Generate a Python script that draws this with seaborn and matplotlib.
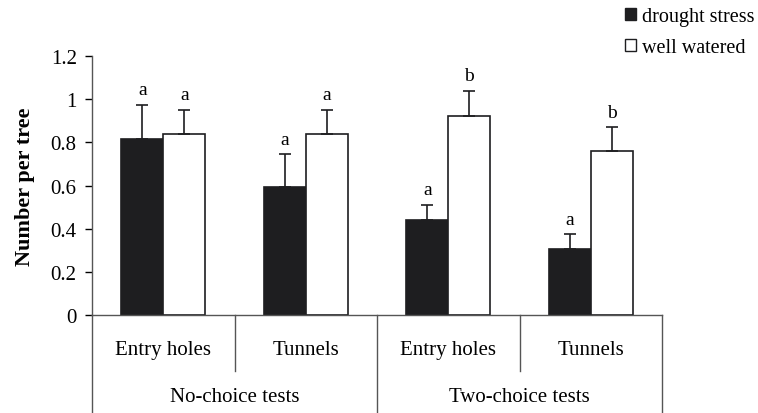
import pandas as pd
import seaborn as sns
import matplotlib.pyplot as plt
from matplotlib.patches import Patch
import matplotlib.transforms as mtransforms

# values
measures = ['Entry holes', 'Tunnels', 'Entry holes', 'Tunnels']
tests = ['No-choice tests', 'Two-choice tests']
drought = [0.815, 0.595, 0.44, 0.305]
drought_err = [0.16, 0.15, 0.07, 0.07]
watered = [0.84, 0.84, 0.92, 0.76]
watered_err = [0.11, 0.11, 0.12, 0.11]
drought_sig = ['a', 'a', 'a', 'a']
watered_sig = ['a', 'a', 'b', 'b']

plt.rcParams['font.family'] = ['Liberation Serif', 'DejaVu Serif']

cats = ['c%d' % i for i in range(4)]
df = pd.DataFrame({
    'cat': cats * 2,
    'treatment': ['drought stress'] * 4 + ['well watered'] * 4,
    'value': drought + watered,
    'err': drought_err + watered_err,
    'sig': drought_sig + watered_sig,
})

fig = plt.figure(figsize=(7.58, 4.14), dpi=100)
ax = fig.add_axes([0.1214, 0.2367, 0.752, 0.6256])

sns.barplot(data=df, x='cat', y='value', hue='treatment', order=cats,
            hue_order=['drought stress', 'well watered'],
            palette=['#1e1e20', 'white'], edgecolor='#1e1e20', linewidth=1.2,
            width=0.59, errorbar=None, legend=False, ax=ax)

# error bars (upper only) and significance letters
for container, (_, sub) in zip(ax.containers, df.groupby('treatment', sort=True)):
    for bar, (_, row) in zip(container, sub.iterrows()):
        xc = bar.get_x() + bar.get_width() / 2
        ax.errorbar(xc, row['value'], yerr=[[0], [row['err']]], fmt='none',
                    ecolor='#1e1e20', elinewidth=1.2, capsize=4, capthick=1.2)
        ax.text(xc, row['value'] + row['err'] + 0.03, row['sig'],
                ha='center', va='bottom', fontsize=14)

ax.set_xlim(-0.5, 3.5)
ax.set_ylim(0, 1.2)
ax.set_yticks([0, 0.2, 0.4, 0.6, 0.8, 1.0, 1.2])
ax.set_yticklabels(['0', '0.2', '0.4', '0.6', '0.8', '1', '1.2'], fontsize=15)
ax.tick_params(axis='y', direction='out', length=5, width=1, pad=6)
ax.set_xticks([])
ax.set_xlabel('')
ax.set_ylabel('Number per tree', fontsize=16, fontweight='bold')
ax.yaxis.set_label_coords(-0.1, 0.5)
for s in ['top', 'right']:
    ax.spines[s].set_visible(False)
for s in ['left', 'bottom']:
    ax.spines[s].set_color('#555555')
    ax.spines[s].set_linewidth(1)

# category table below the axis
trans = mtransforms.blended_transform_factory(ax.transData, ax.transAxes)
row1 = -0.216
bottom = -0.378
for x in [-0.5, 1.5, 3.5]:
    ax.plot([x, x], [0, bottom], transform=trans, color='#555555', lw=1, clip_on=False)
for x in [0.5, 2.5]:
    ax.plot([x, x], [0, row1], transform=trans, color='#555555', lw=1, clip_on=False)
for i, m in enumerate(measures):
    ax.text(i, -0.135, m, transform=trans, ha='center', va='center', fontsize=15)
for j, t in enumerate(tests):
    ax.text(2 * j + 0.5, -0.315, t, transform=trans, ha='center', va='center', fontsize=15)

handles = [Patch(facecolor='#1e1e20', edgecolor='#1e1e20', label='drought stress'),
           Patch(facecolor='white', edgecolor='#1e1e20', label='well watered')]
fig.legend(handles=handles, loc='upper left', bbox_to_anchor=(0.8, 1.025), frameon=False,
           fontsize=14.5, handlelength=0.55, handleheight=0.55, handletextpad=0.3,
           labelspacing=0.6)

plt.savefig('out.png', dpi=100)
